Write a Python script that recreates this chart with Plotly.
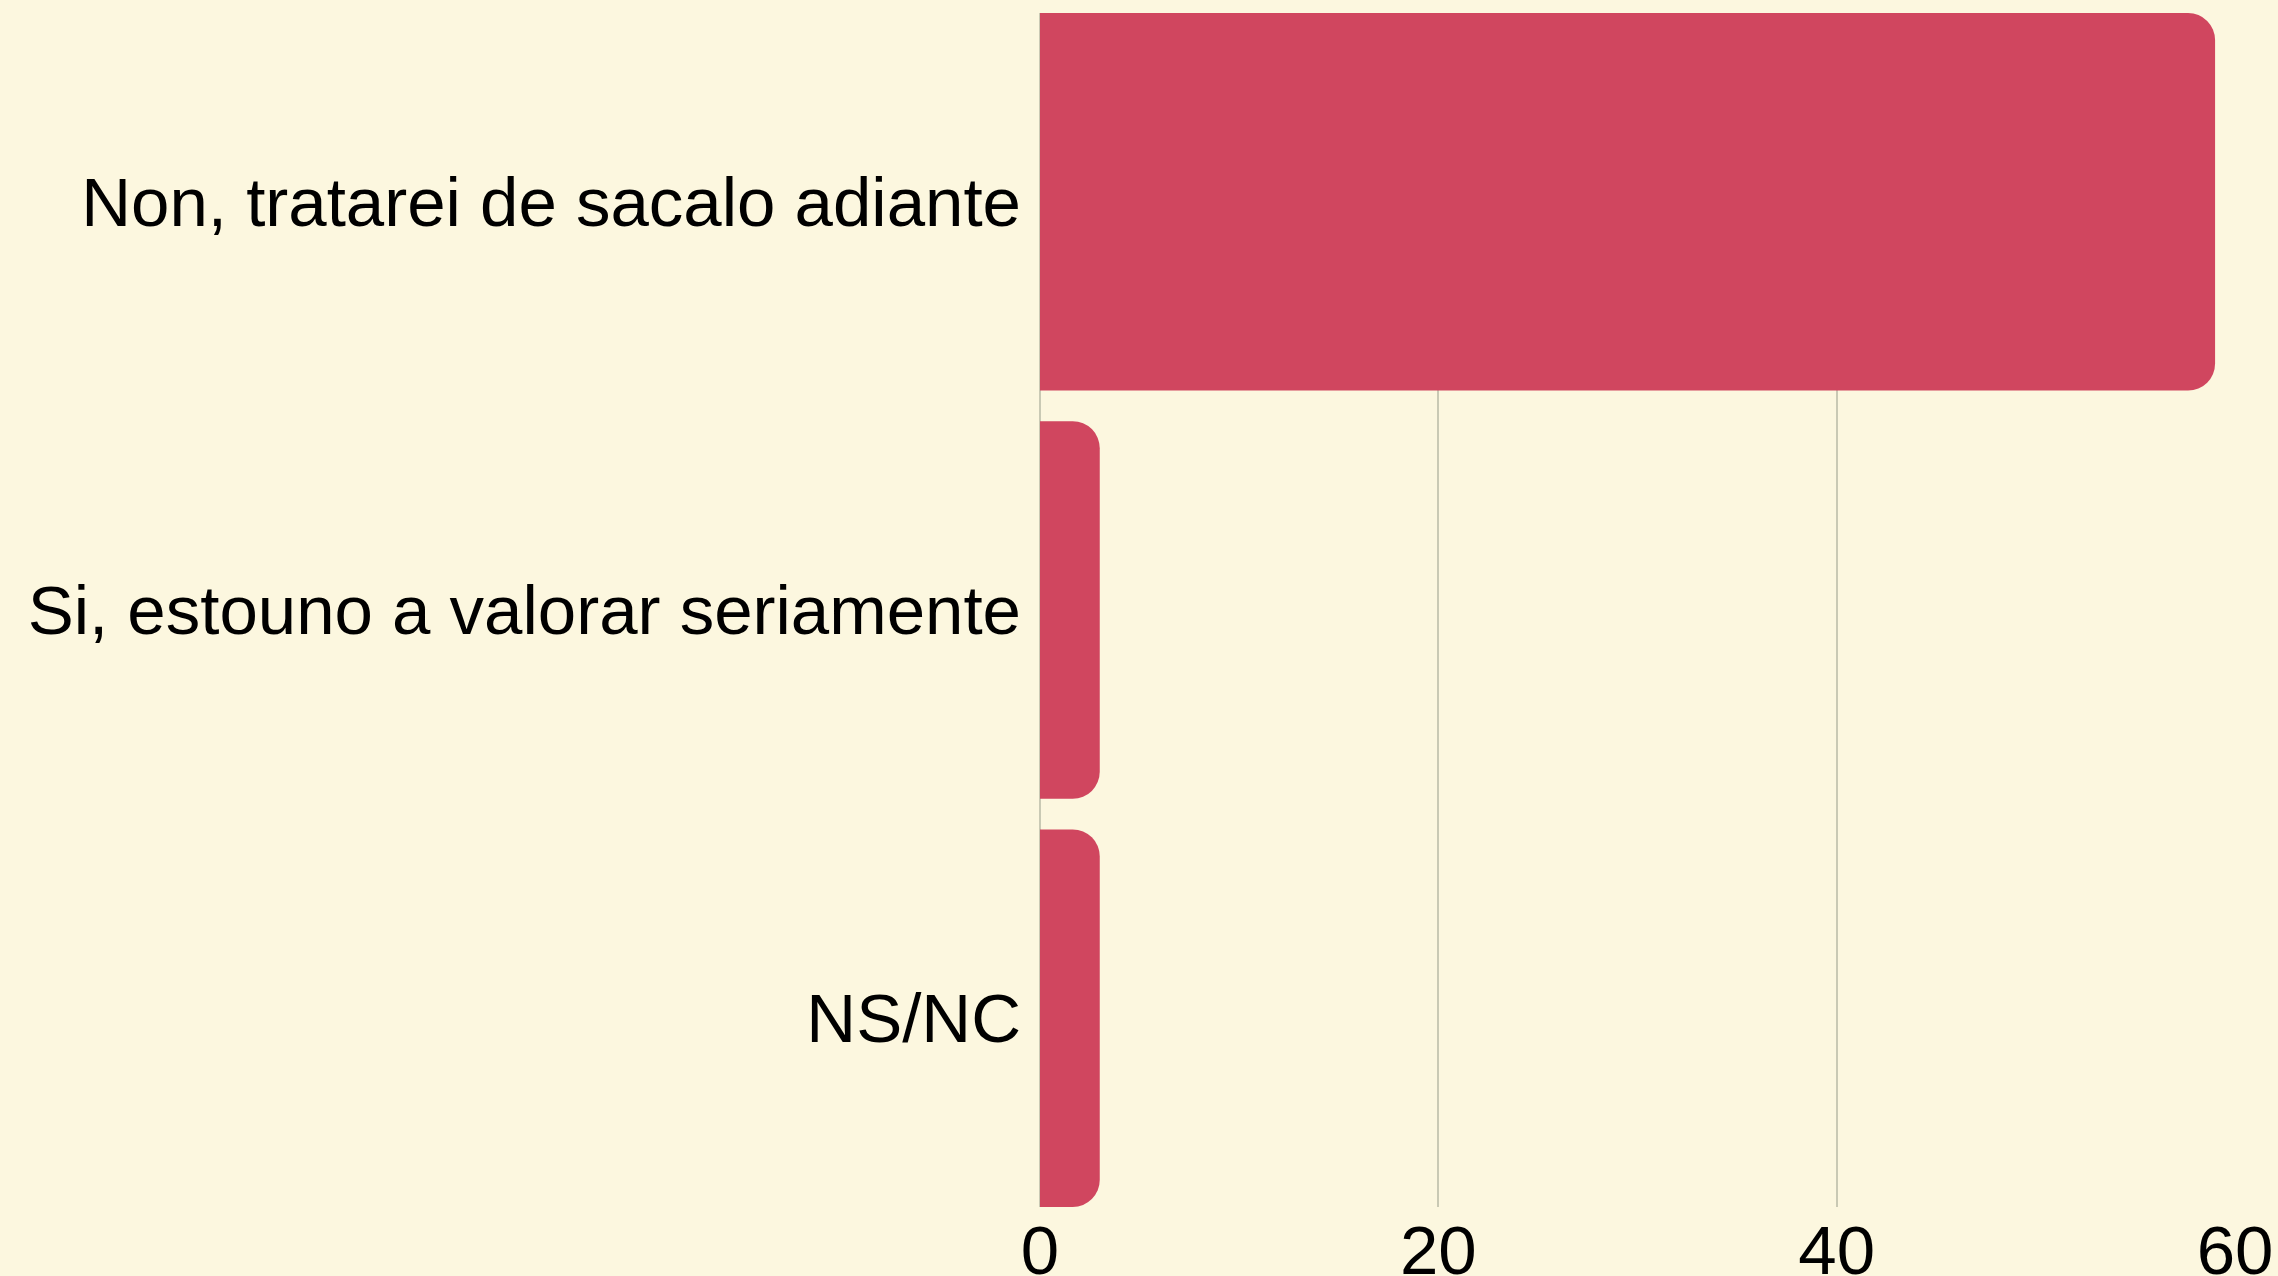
import plotly.graph_objects as go

categories = ["Non, tratarei de sacalo adiante", "Si, estouno a valorar seriamente", "NS/NC"]
values = [59, 3, 3]
tick_vals = [0, 20, 40, 60]
tick_text = ["0", "20", "40", "60"]

bar_color = "#D0465F"
bg = "#FCF7DF"
grid = "#C9C9B4"

fig = go.Figure(go.Bar(
    x=values, y=categories, orientation="h",
    marker=dict(color=bar_color, cornerradius=27, line=dict(width=0)),
    hoverinfo="skip",
))

gap = 0.075
fig.update_layout(
    width=2278, height=1276,
    paper_bgcolor=bg, plot_bgcolor=bg,
    margin=dict(l=1040, r=43, t=13, b=69, pad=0, autoexpand=False),
    bargap=gap,
    showlegend=False,
    font=dict(family="Liberation Sans, Arial, sans-serif", size=69, color="#000000"),
    xaxis=dict(range=[0, 60], tickvals=tick_vals, ticktext=tick_text,
               showgrid=True, gridcolor=grid, gridwidth=1.5,
               zeroline=True, zerolinecolor=grid, zerolinewidth=1.5,
               showline=False, ticks="", ticklabelstandoff=-3,
               automargin=False, tickfont=dict(size=69)),
    yaxis=dict(autorange=False, range=[2.5 - gap / 2, -0.5 + gap / 2],
               showgrid=False, zeroline=False, showline=False, ticks="",
               automargin=False, ticklabelstandoff=18, tickfont=dict(size=69)),
)

fig.write_html(
    "out.html",
    config={"displayModeBar": False},
    post_script="document.body.style.margin='0';document.body.style.background='%s';" % bg,
)
